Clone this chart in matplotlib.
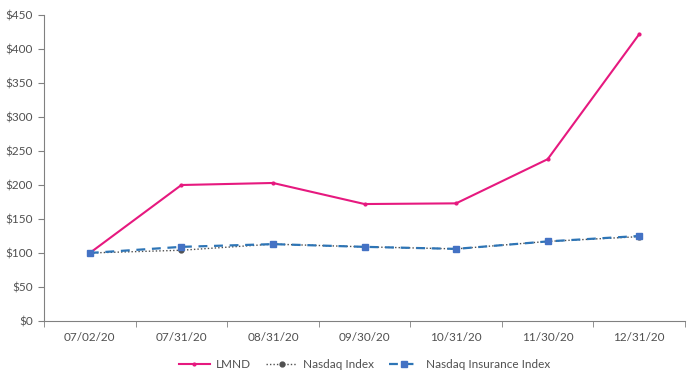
import matplotlib.pyplot as plt
from matplotlib.ticker import FuncFormatter, FixedLocator

plt.rcParams['font.family'] = ['Lato', 'DejaVu Sans']

dates = ['07/02/20', '07/31/20', '08/31/20', '09/30/20', '10/31/20', '11/30/20', '12/31/20']
lmnd = [100, 200, 203, 172, 173, 238, 422]
nasdaq = [100, 104, 113, 109, 106, 117, 124]
nasdaq_ins = [100, 109, 113, 109, 106, 117, 125]

fig = plt.figure(figsize=(6.99, 3.78), dpi=100)
ax = fig.add_axes([0.063, 0.151, 0.917, 0.809])

x = range(len(dates))
ax.plot(x, lmnd, color='#E6197F', lw=1.5, marker='o', ms=2, label='LMND')
ax.plot(x, nasdaq, color='#505050', lw=1, ls=(0, (1, 1.5)), marker='o', ms=3.5,
        mfc='#505050', mec='#505050', label='Nasdaq Index')
ax.plot(x, nasdaq_ins, color='#2E75B6', lw=1.6, ls=(0, (4, 3)), marker='s', ms=4,
        mfc='#4472C4', mec='#4472C4', label='Nasdaq Insurance Index')

ax.set_xlim(-0.5, len(dates) - 0.5)
ax.set_ylim(0, 450)
ax.set_yticks(range(0, 451, 50))
ax.yaxis.set_major_formatter(FuncFormatter(lambda v, p: f'${v:.0f}'))
ax.set_xticks(list(x))
ax.set_xticklabels(dates)
ax.xaxis.set_minor_locator(FixedLocator([i - 0.5 for i in range(len(dates) + 1)]))
ax.tick_params(axis='x', which='major', length=0, pad=8)
ax.tick_params(axis='x', which='minor', length=4, color='#808080')
ax.tick_params(axis='y', length=4, color='#808080', pad=4)
ax.tick_params(labelsize=8.5, labelcolor='#505050')

for s in ['top', 'right']:
    ax.spines[s].set_visible(False)
for s in ['left', 'bottom']:
    ax.spines[s].set_color('#808080')
    ax.spines[s].set_linewidth(0.8)

ax.legend(loc='upper center', bbox_to_anchor=(0.5, -0.09), ncol=3, frameon=False,
          fontsize=8.5, handlelength=2.6, handletextpad=0.5, columnspacing=1.3,
          labelcolor='#505050')

plt.savefig('out.png', dpi=100)
